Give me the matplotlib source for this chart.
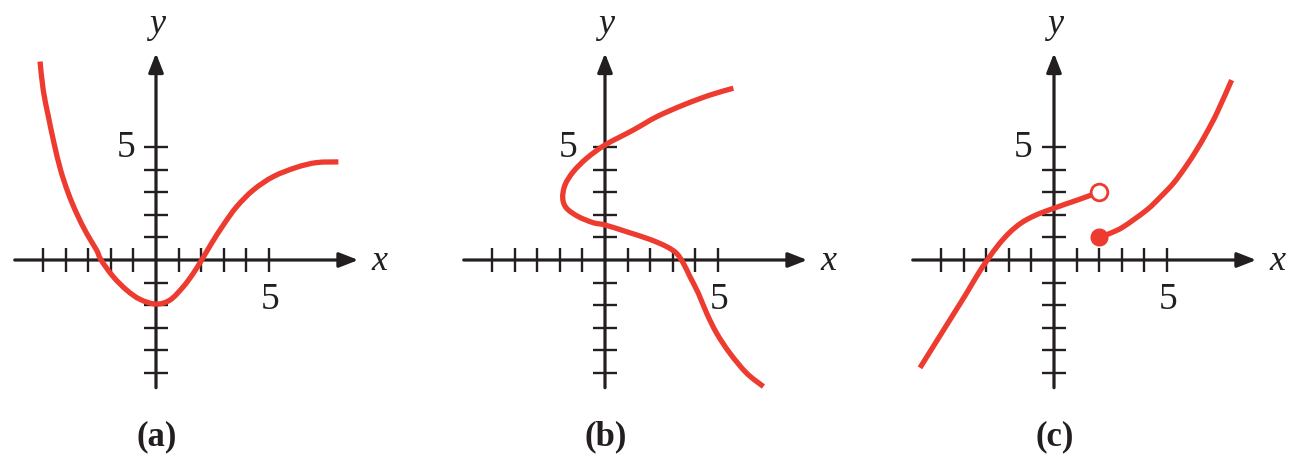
import numpy as np
import matplotlib.pyplot as plt
from matplotlib.path import Path
from matplotlib.patches import PathPatch

# ---- data (graph units) ----
xticks = [-5, -4, -3, -2, -1, 1, 2, 3, 4, 5]
yticks = [-5, -4, -3, -2, -1, 1, 2, 3, 4, 5]

# (a) a function with a minimum at x = 0
a_x = [-5.13, -4.99, -4.76, -4.51, -4.22, -3.88, -3.51, -3.07, -2.63, -2.43,
       -1.89, -1.30, -0.71, 0.0, 0.62, 1.21, 1.65, 2.02, 2.46, 2.98, 3.57,
       4.31, 5.19, 6.22, 7.11, 8.07]
a_y = [8.78, 7.52, 6.34, 5.16, 3.98, 2.95, 2.06, 1.18, 0.44, 0.0,
       -0.74, -1.33, -1.74, -1.95, -1.77, -1.18, -0.59, 0.0, 0.74, 1.55, 2.36,
       3.10, 3.69, 4.10, 4.31, 4.34]

# (b) an S-shaped relation (not a function)
b_x = [5.68, 4.65, 3.47, 2.29, 1.25, 0.0, -0.81, -1.40, -1.77, -1.87, -1.70,
       -1.18, -0.52, 0.0, 0.96, 1.99, 2.73, 3.17, 3.47, 3.76, 4.13, 4.50,
       4.94, 5.53, 6.27, 7.01]
b_y = [7.60, 7.30, 6.86, 6.34, 5.75, 5.09, 4.50, 3.91, 3.32, 2.73, 2.29,
       1.92, 1.65, 1.55, 1.25, 0.91, 0.59, 0.29, -0.15, -0.74, -1.47, -2.36,
       -3.24, -4.13, -5.01, -5.60]

# (c) a function with a jump at x = 2
c1_x = [-5.93, -5.4, -4.9, -4.4, -3.9, -3.4, -2.95, -2.45, -1.95, -1.45,
        -0.95, -0.45, 0.0, 0.5, 1.0, 1.5, 2.0]
c1_y = [-4.77, -3.92, -3.12, -2.32, -1.52, -0.68, 0.0, 0.68, 1.23, 1.64,
        1.92, 2.13, 2.29, 2.47, 2.64, 2.82, 3.0]
c2_x = [2.0, 2.48, 3.07, 4.10, 4.69, 5.28, 5.80, 6.31, 6.75, 7.20, 7.86]
c2_y = [1.0, 1.18, 1.47, 2.21, 2.77, 3.39, 4.09, 4.87, 5.63, 6.49, 7.96]
open_pt = (2, 3)
closed_pt = (2, 1)

labels = ["(a)", "(b)", "(c)"]
ylab5_x = [-1.34, -1.62, -1.35]

RED = "#EE3B30"
INK = "#231F20"
SERIF = ["Liberation Serif", "DejaVu Serif"]

W, H = 1298, 458
unit = 22.6          # pixels per graph unit
origins = [156, 605, 1054]
oy = 260


def smooth_path(xs, ys):
    # Catmull-Rom through the read points, handed to matplotlib as cubic Beziers
    p = np.column_stack([xs, ys])
    ext = np.vstack([p[0], p, p[-1]])
    verts = [p[0]]
    codes = [Path.MOVETO]
    for i in range(len(p) - 1):
        p0, p1, p2, p3 = ext[i], ext[i + 1], ext[i + 2], ext[i + 3]
        verts += [p1 + (p2 - p0) / 6, p2 - (p3 - p1) / 6, p2]
        codes += [Path.CURVE4] * 3
    return Path(verts, codes)


def draw_curve(ax, xs, ys):
    ax.add_patch(PathPatch(smooth_path(xs, ys), fill=False, edgecolor=RED,
                           lw=3.8, capstyle="butt", joinstyle="round", zorder=3))


fig = plt.figure(figsize=(W / 100, H / 100), dpi=100)
axes = []
for i, ox in enumerate(origins):
    left = i * W / 3
    ax = fig.add_axes([left / W, 0, (W / 3) / W, 1])
    ax.set_xlim((left - ox) / unit, (left + W / 3 - ox) / unit)
    ax.set_ylim((oy - H) / unit, oy / unit)
    ax.axis("off")
    axes.append(ax)

arrow = dict(arrowstyle="-|>,head_length=1.15,head_width=0.45", lw=2.3,
             color=INK, shrinkA=0, shrinkB=0, mutation_scale=10)

for i, ax in enumerate(axes):
    ax.annotate("", xy=(8.95, 0), xytext=(-6.25, 0), arrowprops=arrow)
    ax.annotate("", xy=(0, 9.15), xytext=(0, -5.65), arrowprops=arrow)
    ax.vlines(xticks, -0.55, 0.55, color=INK, lw=1.7)
    ax.hlines(yticks, -0.55, 0.55, color=INK, lw=1.7)
    ax.text(ylab5_x[i], 4.98, "5", fontsize=27, family=SERIF,
            ha="center", va="center", color=INK)
    ax.text(5.04, -1.77, "5", fontsize=27, family=SERIF,
            ha="center", va="center", color=INK)
    ax.text(9.9, -0.07, "x", fontsize=26, family=SERIF, style="italic",
            ha="center", va="center", color=INK)
    ax.text(0.03, 10.44, "y", fontsize=26, family=SERIF, style="italic",
            ha="center", va="center", color=INK)
    ax.text(0.03, -7.83, labels[i], fontsize=25, family=SERIF,
            fontweight="bold", ha="center", va="center", color=INK)

draw_curve(axes[0], a_x, a_y)
draw_curve(axes[1], b_x, b_y)
draw_curve(axes[2], c1_x, c1_y)
draw_curve(axes[2], c2_x, c2_y)
axes[2].plot(*open_pt, "o", ms=12, mfc="white", mec=RED, mew=2, zorder=4)
axes[2].plot(*closed_pt, "o", ms=12, mfc=RED, mec=RED, zorder=4)

fig.savefig("out.png", dpi=100)
